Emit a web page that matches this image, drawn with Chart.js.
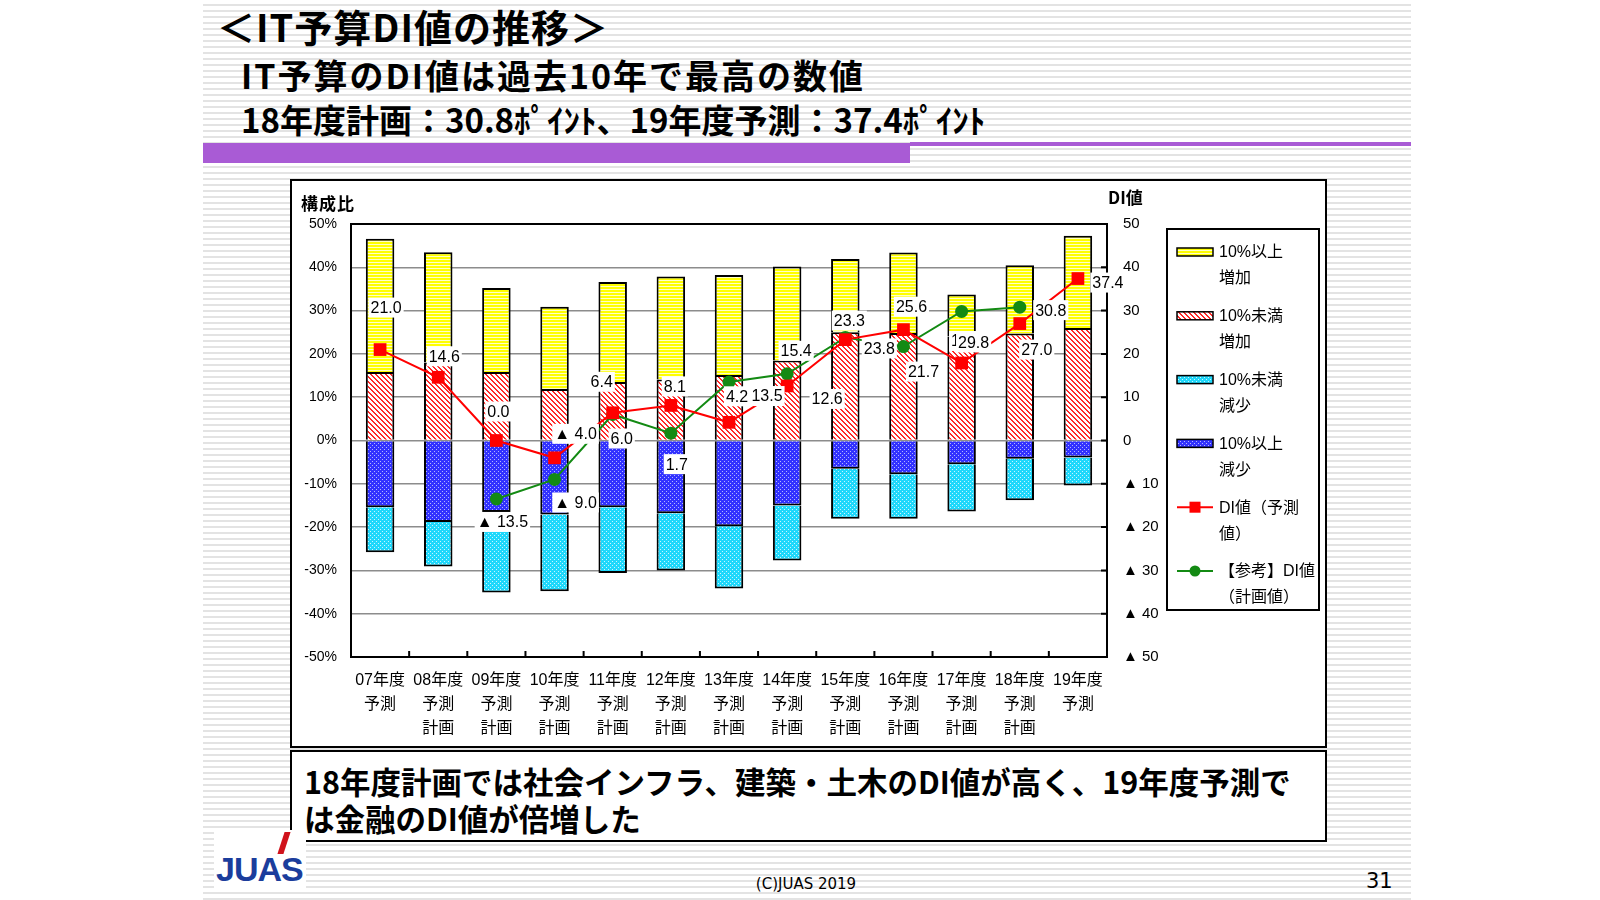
<!DOCTYPE html>
<html lang="ja">
<head>
<meta charset="utf-8">
<title>IT予算DI値の推移</title>
<script src="https://cdn.jsdelivr.net/npm/chart.js@4.4.1/dist/chart.umd.min.js"></script>
<style>
  html, body { margin: 0; padding: 0; background: #fff; }
  body { width: 1600px; height: 900px; position: relative; overflow: hidden; font-family: 'Noto Sans CJK JP', sans-serif; color: #000; }
  .slide { position: absolute; left: 203px; top: 0; width: 1208px; height: 900px;
    background: repeating-linear-gradient(to bottom, #fff 0 4px, #e3e3e3 4px 6px); }
  .txt { position: absolute; white-space: nowrap; font-weight: 700; }
  .title { left: 217px; top: 1px; height: 50px; line-height: 50px; font-size: 38px; letter-spacing: 1px; }
  .sub1 { left: 241px; top: 52px; height: 46px; line-height: 46px; font-size: 34px; letter-spacing: 2px; }
  .sub2 { left: 241px; top: 96px; height: 46px; line-height: 46px; font-size: 33px; }
  .bar-thick { position: absolute; left: 203px; top: 143px; width: 707px; height: 20px; background: #a95bd5; }
  .bar-thin { position: absolute; left: 910px; top: 142px; width: 501px; height: 4px; background: #a95bd5; }
  .chart-box { position: absolute; left: 290px; top: 179px; width: 1037px; height: 569px; background: #fff; box-sizing: border-box; border: 2px solid #000; }
  #chart { position: absolute; left: 290px; top: 179px; }
  .axis-title { position: absolute; font-size: 17px; font-weight: 700; height: 24px; line-height: 24px; }
  .caption { position: absolute; left: 290px; top: 750px; width: 1037px; height: 92px; background: #fff; box-sizing: border-box; border: 2px solid #000; }
  .caption div { position: absolute; left: 12px; font-size: 30.5px; font-weight: 700; height: 40px; line-height: 40px; white-space: nowrap; }
  .logo-bg { position: absolute; left: 214px; top: 830px; width: 92px; height: 62px; background: #fff; }
  .logo { position: absolute; left: 216px; top: 850px; font-family: 'Liberation Sans', sans-serif; font-weight: 700; font-size: 34px; line-height: 38px; color: #1b3d9c; letter-spacing: -1px; }
  .logo-mark { position: absolute; left: 281px; top: 832px; width: 6px; height: 22px; background: #d0121b; transform: skewX(-18deg); }
  .copy { position: absolute; left: 706px; width: 200px; text-align: center; top: 872px; font-family: 'DejaVu Sans', sans-serif; font-size: 15px; line-height: 24px; }
  .page { position: absolute; left: 1366px; top: 867px; font-family: 'DejaVu Sans', sans-serif; font-size: 21px; line-height: 28px; }
</style>
</head>
<body>
<div class="slide"></div>
<div class="txt title">＜IT予算DI値の推移＞</div>
<div class="txt sub1">IT予算のDI値は過去10年で最高の数値</div>
<div class="txt sub2">18年度計画：30.8ﾎﾟｲﾝﾄ、19年度予測：37.4ﾎﾟｲﾝﾄ</div>
<div class="bar-thick"></div>
<div class="bar-thin"></div>

<div class="chart-box"></div>
<canvas id="chart" width="1037" height="569"></canvas>
<div class="axis-title" style="left:301px; top:191px; letter-spacing:1px;">構成比</div>
<div class="axis-title" style="left:1108px; top:185px;">DI値</div>

<div class="caption">
  <div style="top:9px;">18年度計画では社会インフラ、建築・土木のDI値が高く、19年度予測で</div>
  <div style="top:46px;">は金融のDI値が倍増した</div>
</div>

<div class="logo-bg"></div>
<div class="logo-mark"></div>
<div class="logo">JUAS</div>
<div class="copy">(C)JUAS 2019</div>
<div class="page">31</div>

<script>
// 年度ラベル
const categories = [
  ['07年度', '予測'], ['08年度', '予測', '計画'], ['09年度', '予測', '計画'], ['10年度', '予測', '計画'],
  ['11年度', '予測', '計画'], ['12年度', '予測', '計画'], ['13年度', '予測', '計画'], ['14年度', '予測', '計画'],
  ['15年度', '予測', '計画'], ['16年度', '予測', '計画'], ['17年度', '予測', '計画'], ['18年度', '予測', '計画'],
  ['19年度', '予測']
];

// 構成比（%）
const incOver10 = [30.8, 25.5, 19.4, 19.0, 23.1, 23.8, 23.1, 21.7, 16.9, 18.6, 9.7, 15.8, 21.3];
const incUnder10 = [15.8, 18.0, 15.8, 11.9, 13.5, 14.1, 15.1, 18.5, 25.0, 24.8, 24.0, 24.7, 26.0];
const decUnder10 = [-10.4, -10.3, -18.6, -17.7, -15.2, -13.2, -14.4, -12.7, -11.6, -10.3, -10.9, -9.6, -6.5];
const decOver10 = [-15.4, -18.8, -16.5, -17.1, -15.4, -16.8, -19.8, -15.0, -6.5, -7.8, -5.5, -4.2, -3.9];

// DI値
const diForecast = [21.0, 14.6, 0.0, -4.0, 6.4, 8.1, 4.2, 12.6, 23.3, 25.6, 17.9, 27.0, 37.4];
const diPlan = [null, null, -13.5, -9.0, 6.0, 1.7, 13.5, 15.4, 23.8, 21.7, 29.8, 30.8, null];

// ラベル位置（点からのずれ px）
const forecastLabelOffsets = [[6, -42], [6, -21], [2, -29], [21, -24], [-11, -31], [4, -19], [8, -26], [40, 13], [4, -19], [8, -23], [5, -22], [17, 26], [30, 4]];
const planLabelOffsets = [null, null, [6, 23], [21, 23], [9, 24], [6, 31], [38, 14], [9, -23], [34, 11], [20, 25], [12, 31], [31, 3], null];

const legendLines = [
  ['10%以上', '増加'], ['10%未満', '増加'], ['10%未満', '減少'], ['10%以上', '減少'],
  ['DI値（予測', '値）'], ['【参考】DI値', '（計画値）']
];

const FONT = "'Liberation Sans', 'Noto Sans CJK JP', sans-serif";
const canvas = document.getElementById('chart');
const ctx0 = canvas.getContext('2d');

function makePattern(w, h, draw) {
  const c = document.createElement('canvas');
  c.width = w; c.height = h;
  draw(c.getContext('2d'));
  return ctx0.createPattern(c, 'repeat');
}

const patYellow = makePattern(4, 3, g => { g.fillStyle = '#ffff00'; g.fillRect(0, 0, 4, 3); g.fillStyle = '#ffffc8'; g.fillRect(0, 2, 4, 1); });
const patRed = makePattern(5, 5, g => {
  g.fillStyle = '#fff'; g.fillRect(0, 0, 5, 5);
  g.fillStyle = '#ff2a2a';
  for (let i = 0; i < 5; i++) { g.fillRect(i, i, 1, 1); g.fillRect((i + 1) % 5, i, 1, 1); }
});
const patBlue = makePattern(4, 4, g => { g.fillStyle = '#3232ff'; g.fillRect(0, 0, 4, 4); g.fillStyle = '#b4b4ff'; g.fillRect(0, 0, 1, 1); g.fillRect(2, 2, 1, 1); });
const patCyan = makePattern(4, 4, g => { g.fillStyle = '#1fd8fb'; g.fillRect(0, 0, 4, 4); g.fillStyle = '#c8f6ff'; g.fillRect(0, 0, 1, 1); g.fillRect(2, 2, 1, 1); });

function fmt(v) { return v < 0 ? '▲ ' + Math.abs(v).toFixed(1) : v.toFixed(1); }

const framePlugin = {
  id: 'frame',
  beforeDatasetsDraw(chart) {
    const { ctx, chartArea: a, scales } = chart;
    ctx.save();
    ctx.strokeStyle = '#000';
    ctx.lineWidth = 2;
    ctx.strokeRect(a.left, a.top, a.right - a.left, a.bottom - a.top);
    ctx.beginPath();
    for (let i = 1; i < categories.length; i++) {
      const x = (scales.x.getPixelForValue(i - 1) + scales.x.getPixelForValue(i)) / 2;
      ctx.moveTo(x, a.bottom); ctx.lineTo(x, a.bottom - 6);
    }
    scales.y1.ticks.forEach(t => { const y = scales.y1.getPixelForValue(t.value); ctx.moveTo(a.right, y); ctx.lineTo(a.right - 6, y); });
    ctx.stroke();
    ctx.restore();
  }
};

const labelPlugin = {
  id: 'pointLabels',
  afterDatasetsDraw(chart) {
    const ctx = chart.ctx;
    ctx.save();
    ctx.font = '16px ' + FONT;
    ctx.textAlign = 'center';
    ctx.textBaseline = 'middle';
    [[4, diForecast, forecastLabelOffsets], [5, diPlan, planLabelOffsets]].forEach(([di, vals, offs]) => {
      const meta = chart.getDatasetMeta(di);
      vals.forEach((v, i) => {
        if (v === null) return;
        const pt = meta.data[i];
        const txt = fmt(v);
        const x = pt.x + offs[i][0], y = pt.y + offs[i][1];
        const w = ctx.measureText(txt).width + 4;
        ctx.fillStyle = '#fff';
        ctx.fillRect(x - w / 2, y - 10, w, 20);
        ctx.fillStyle = '#000';
        ctx.fillText(txt, x, y + 1);
      });
    });
    ctx.restore();
  }
};

const legendPlugin = {
  id: 'boxLegend',
  afterDraw(chart) {
    const ctx = chart.ctx;
    const order = [1, 0, 3, 2, 4, 5];
    ctx.save();
    ctx.fillStyle = '#fff';
    ctx.fillRect(877, 50, 152, 381);
    ctx.strokeStyle = '#000';
    ctx.lineWidth = 2;
    ctx.strokeRect(877, 50, 152, 381);
    ctx.font = '16px ' + FONT;
    ctx.textBaseline = 'middle';
    ctx.textAlign = 'left';
    order.forEach((di, k) => {
      const ds = chart.data.datasets[di];
      const y = 73 + k * 63.8;
      if (ds.type === 'line') {
        ctx.strokeStyle = ds.borderColor;
        ctx.lineWidth = 2;
        ctx.beginPath(); ctx.moveTo(887, y); ctx.lineTo(923, y); ctx.stroke();
        ctx.fillStyle = ds.borderColor;
        if (ds.pointStyle === 'rect') ctx.fillRect(899.5, y - 5.5, 11, 11);
        else { ctx.beginPath(); ctx.arc(905, y, 5.5, 0, Math.PI * 2); ctx.fill(); }
      } else {
        ctx.fillStyle = ds.backgroundColor;
        ctx.fillRect(887, y - 4, 36, 8);
        ctx.strokeStyle = '#000';
        ctx.lineWidth = 1.5;
        ctx.strokeRect(887, y - 4, 36, 8);
      }
      ctx.fillStyle = '#000';
      ctx.fillText(legendLines[k][0], 929, y + 1);
      ctx.fillText(legendLines[k][1], 929, y + 27);
    });
    ctx.restore();
  }
};

const barCommon = { type: 'bar', yAxisID: 'y', stack: 'a', borderColor: '#000', borderWidth: 2, barPercentage: 0.49, categoryPercentage: 1, order: 1 };

new Chart(canvas, {
  data: {
    labels: categories,
    datasets: [
      Object.assign({ label: '10%未満増加', data: incUnder10, backgroundColor: patRed }, barCommon),
      Object.assign({ label: '10%以上増加', data: incOver10, backgroundColor: patYellow }, barCommon),
      Object.assign({ label: '10%以上減少', data: decOver10, backgroundColor: patBlue }, barCommon),
      Object.assign({ label: '10%未満減少', data: decUnder10, backgroundColor: patCyan }, barCommon),
      { type: 'line', label: 'DI値（予測値）', data: diForecast, yAxisID: 'y1', borderColor: '#ff0000', backgroundColor: '#ff0000',
        borderWidth: 2, pointStyle: 'rect', pointRadius: 9, pointBorderWidth: 0, tension: 0, fill: false, order: 0 },
      { type: 'line', label: '【参考】DI値（計画値）', data: diPlan, yAxisID: 'y1', borderColor: '#138a13', backgroundColor: '#138a13',
        borderWidth: 2, pointStyle: 'circle', pointRadius: 6.5, pointBorderWidth: 0, tension: 0, fill: false, order: 0 }
    ]
  },
  options: {
    responsive: false,
    animation: false,
    events: [],
    layout: { padding: { top: 45, right: 160, bottom: 0, left: 0 } },
    plugins: { legend: { display: false }, tooltip: { enabled: false } },
    scales: {
      x: {
        stacked: true,
        grid: { display: false, drawTicks: false },
        border: { display: false },
        ticks: { color: '#000', font: { family: FONT, size: 16, lineHeight: 1.5 }, padding: 12, maxRotation: 0, autoSkip: false },
        afterFit(s) { s.height = 91; }
      },
      y: {
        stacked: true, position: 'left', min: -50, max: 50,
        grid: { color: '#8c8c8c', lineWidth: 1.5, drawTicks: false },
        border: { display: false },
        ticks: { stepSize: 10, color: '#000', font: { family: FONT, size: 14 }, padding: 14, callback: v => v + '%' },
        afterFit(s) { s.width = 61; }
      },
      y1: {
        position: 'right', min: -50, max: 50,
        grid: { drawOnChartArea: false, drawTicks: false },
        border: { display: false },
        ticks: { stepSize: 10, color: '#000', font: { family: FONT, size: 15 }, padding: 16, callback: v => v < 0 ? '▲ ' + (-v) : String(v) },
        afterFit(s) { s.width = 60; }
      }
    }
  },
  plugins: [framePlugin, labelPlugin, legendPlugin]
});
</script>
</body>
</html>
